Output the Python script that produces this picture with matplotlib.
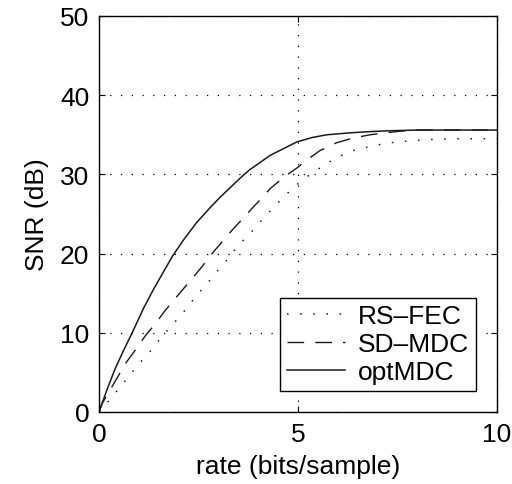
import matplotlib
matplotlib.use("Agg")
import matplotlib.pyplot as plt

plt.rcParams['font.family'] = ['Liberation Sans', 'DejaVu Sans']

rs_x = [0, 0.28, 0.47, 0.67, 0.86, 1.06, 1.26, 1.45, 1.64, 1.84, 2.06, 2.26, 2.45, 2.66, 2.85, 3.05, 3.25,
        3.43, 3.63, 3.84, 4.05, 4.25, 4.46, 4.67, 4.90, 5.12, 5.39, 5.64, 5.89, 6.31, 6.60, 6.89, 7.19,
        7.48, 8.0, 8.5, 9.0, 10.0]
rs_y = [0, 1.6, 2.8, 4.0, 5.2, 6.4, 7.5, 8.7, 9.85, 11.0, 12.2, 13.5, 14.7, 15.9, 17.0, 18.3, 19.4,
        20.6, 21.7, 22.8, 24.0, 25.1, 26.2, 27.3, 28.4, 29.3, 30.3, 31.1, 31.9, 32.9, 33.3, 33.6, 33.9,
        34.1, 34.3, 34.45, 34.5, 34.5]

sd_x = [0, 0.07, 0.49, 0.69, 0.94, 1.16, 1.41, 1.66, 1.91, 2.33, 2.58, 2.83, 3.08, 3.35, 3.63, 3.88,
        4.05, 4.30, 4.63, 4.97, 5.30, 5.55, 5.97, 6.39, 6.81, 7.19, 7.56, 8.0, 10.0]
sd_y = [0, 1.0, 4.6, 6.3, 8.0, 9.6, 11.1, 12.8, 14.3, 16.8, 18.3, 19.95, 21.4, 23.0, 24.5, 25.9,
        26.8, 28.2, 29.6, 30.8, 32.1, 33.0, 34.0, 34.6, 35.0, 35.25, 35.45, 35.6, 35.6]

opt_x = [0, 0.2, 0.4, 0.62, 0.82, 1.11, 1.36, 1.62, 1.85, 2.12, 2.45, 2.79, 3.04, 3.54, 3.79, 4.30,
         4.97, 5.35, 5.72, 6.31, 6.8, 7.23, 8.0, 10.0]
opt_y = [0, 2.8, 5.4, 7.8, 9.85, 13.0, 15.4, 17.7, 19.7, 21.7, 23.9, 25.8, 27.1, 29.5, 30.6, 32.4,
         34.1, 34.65, 35.0, 35.25, 35.4, 35.5, 35.6, 35.6]

labels = ['RS\u2013FEC', 'SD\u2013MDC', 'optMDC']
xticks = [0, 5, 10]
yticks = [0, 10, 20, 30, 40, 50]

fig = plt.figure(figsize=(5.12, 4.85), dpi=100)
ax = fig.add_axes([99/512, 72/485, 398/512, 396/485])
c = '#1a1a1a'
ax.plot(rs_x, rs_y, linestyle=(0, (1, 7.6)), color=c, lw=1.1, label=labels[0])
ax.plot(sd_x, sd_y, linestyle=(0, (12, 8)), color=c, lw=1.0, label=labels[1])
ax.plot(opt_x, opt_y, linestyle='-', color=c, lw=1.1, label=labels[2])
ax.set_xlim(0, 10)
ax.set_ylim(0, 50)
ax.set_xticks(xticks)
ax.set_yticks(yticks)
ax.grid(True, linestyle=(0, (1, 7.6)), color='black', lw=0.9)
ax.tick_params(direction='in', length=4, top=True, right=True, labelsize=19, pad=7)
for s in ax.spines.values():
    s.set_linewidth(1.0)
ax.set_xlabel('rate (bits/sample)', fontsize=19, labelpad=6)
ax.set_ylabel('SNR (dB)', fontsize=19, labelpad=8)
leg = ax.legend(loc='lower right', fontsize=19, frameon=True, fancybox=False,
                edgecolor='black', framealpha=1, handlelength=2.2, borderpad=0.25,
                labelspacing=0.15, handletextpad=0.5, borderaxespad=0.8)
leg.get_frame().set_linewidth(1.0)
fig.savefig('out.png', dpi=100)
